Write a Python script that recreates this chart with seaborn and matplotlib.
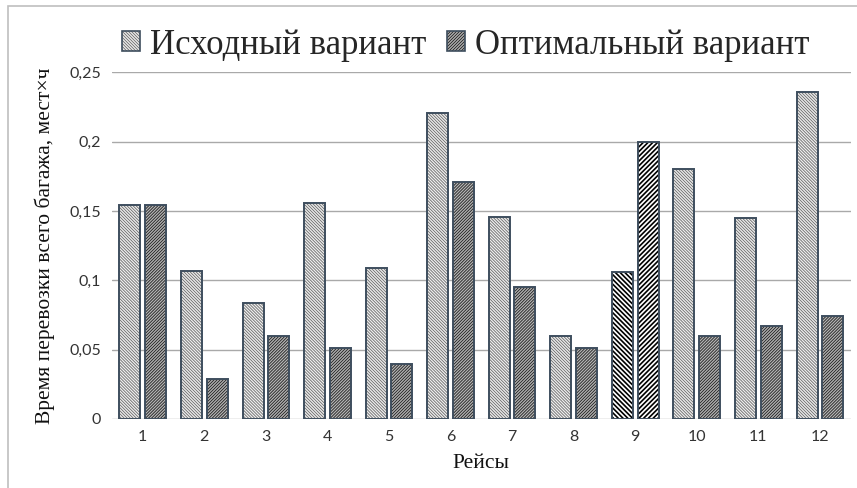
import matplotlib
matplotlib.use("Agg")
import matplotlib.pyplot as plt
import seaborn as sns
import pandas as pd
from matplotlib.patches import Rectangle, Patch

flights = [str(i) for i in range(1, 13)]
original = [0.154, 0.107, 0.084, 0.156, 0.109, 0.221, 0.146, 0.060, 0.106, 0.180, 0.145, 0.236]
optimal = [0.154, 0.029, 0.060, 0.051, 0.040, 0.171, 0.095, 0.051, 0.200, 0.060, 0.067, 0.074]
series = ["Исходный вариант", "Оптимальный вариант"]
yticks = [0, 0.05, 0.1, 0.15, 0.2, 0.25]
ytick_labels = ["0", "0,05", "0,1", "0,15", "0,2", "0,25"]
highlight = "9"

df = pd.DataFrame({
    "Рейс": flights * 2,
    "value": original + optimal,
    "series": [series[0]] * 12 + [series[1]] * 12,
})

sns.set_theme(style="white")
plt.rcParams["hatch.linewidth"] = 0.6

fig = plt.figure(figsize=(8.57, 4.88), dpi=100)
ax = fig.add_axes([112 / 857, 1 - 419 / 488, (850.7 - 112) / 857, (419 - 72.3) / 488])
sns.barplot(data=df, x="Рейс", y="value", hue="series", order=flights,
            hue_order=series, width=0.835, gap=0.183, ax=ax, legend=False)

outline = "#3e4e5e"
styles = [
    dict(face="#eeeeee", hatch="\\" * 11, hcol="#6a6a6a"),
    dict(face="#b4b4b4", hatch="/" * 11, hcol="#1e1e1e"),
]
special = [
    dict(face="white", hatch="\\" * 7, hcol="black"),
    dict(face="white", hatch="/" * 7, hcol="black"),
]
for i, cont in enumerate(ax.containers):
    for j, bar in enumerate(cont):
        st = special[i] if flights[j] == highlight else styles[i]
        bar.set_facecolor(st["face"])
        bar.set_edgecolor(st["hcol"])
        bar.set_hatch(st["hatch"])
        bar.set_linewidth(0)
        if flights[j] == highlight and hasattr(bar, "set_hatch_linewidth"):
            bar.set_hatch_linewidth(1.2)
        ax.add_patch(Rectangle(bar.get_xy(), bar.get_width(), bar.get_height(),
                               fill=False, edgecolor=outline, linewidth=1.4,
                               zorder=bar.get_zorder() + 0.1))

ax.set_ylim(0, 0.25)
ax.set_yticks(yticks)
ax.set_yticklabels(ytick_labels)
ax.yaxis.grid(True, color="#a9a9a9", linewidth=1)
ax.set_axisbelow(True)
for s in ax.spines.values():
    s.set_visible(False)
ax.tick_params(axis="both", length=0, labelsize=11.5, colors="#333333")
ax.tick_params(axis="y", pad=8)
ax.tick_params(axis="x", pad=8)
for lab in ax.get_xticklabels() + ax.get_yticklabels():
    lab.set_family("Lato")

ax.set_xlabel("Рейсы", family="Liberation Serif", fontsize=15.5, color="#111111", labelpad=7)
ax.set_ylabel("Время перевозки всего багажа, мест×ч", family="Liberation Serif",
              fontsize=15.5, color="#111111", labelpad=10)

handles = []
for st in styles:
    p = Patch(facecolor=st["face"], edgecolor=st["hcol"], hatch=st["hatch"], linewidth=0)
    o = Patch(facecolor="none", edgecolor=outline, linewidth=1.2)
    handles.append((p, o))
fig.legend(handles, series, loc="center", bbox_to_anchor=(466 / 857, 1 - 45 / 488),
           ncol=2, frameon=False, prop={"family": "Liberation Serif", "size": 25},
           handlelength=0.5, handleheight=0.5, handletextpad=0.3, columnspacing=0.6)

fig.add_artist(Rectangle((8 / 857, -0.1), 1.2, 1 - 6 / 488 + 0.1, transform=fig.transFigure,
                         fill=False, edgecolor="#bfbfbf", linewidth=1.2))

fig.savefig("out.png", dpi=100)
